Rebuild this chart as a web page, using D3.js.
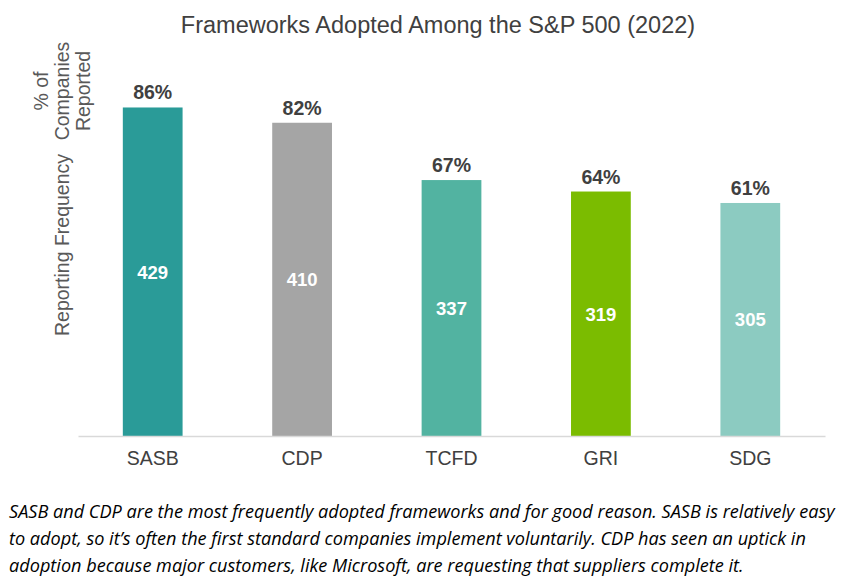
<!DOCTYPE html>
<html>
<head>
<meta charset="utf-8">
<script src="https://cdn.jsdelivr.net/npm/d3@7/dist/d3.min.js"></script>
<style>
  html, body { margin: 0; padding: 0; background: #fff; }
  svg { display: block; }
</style>
</head>
<body>
<svg id="chart" width="854" height="584"></svg>
<script>
const categories = ["SASB", "CDP", "TCFD", "GRI", "SDG"];
const counts = [429, 410, 337, 319, 305];
const percents = [86, 82, 67, 64, 61];
const colors = ["#2A9B98", "#A5A5A5", "#52B3A1", "#7BBC00", "#8CCBC1"];
const captionLines = [
  "SASB and CDP are the most frequently adopted frameworks and for good reason. SASB is relatively easy",
  "to adopt, so it\u2019s often the first standard companies implement voluntarily. CDP has seen an uptick in",
  "adoption because major customers, like Microsoft, are requesting that suppliers complete it."
];
const captionWidths = [826, 801, 740];

const svg = d3.select("#chart");
const margin = { left: 78, right: 29 };
const W = 854;
const FONT = "Arial, 'Liberation Sans', sans-serif";

const x = d3.scaleBand()
  .domain(categories)
  .range([margin.left, W - margin.right])
  .paddingInner(0.6)
  .paddingOuter(0.3);

const y = d3.scaleLinear()
  .domain([0, 100])
  .range([436, 54]);

const data = categories.map((c, i) => ({ cat: c, count: counts[i], pct: percents[i], color: colors[i] }));

// Title
svg.append("text")
  .attr("x", 438).attr("y", 33)
  .attr("text-anchor", "middle")
  .attr("font-family", FONT)
  .attr("font-size", 23.5)
  .attr("fill", "#404040")
  .text("Frameworks Adopted Among the S&P 500 (2022)");

// Bars
svg.selectAll("rect.bar").data(data).enter().append("rect")
  .attr("class", "bar")
  .attr("x", d => x(d.cat))
  .attr("width", x.bandwidth())
  .attr("y", d => y(d.pct))
  .attr("height", d => y(0) - y(d.pct))
  .attr("fill", d => d.color);

// Axis
const xAxis = svg.append("g")
  .attr("transform", `translate(0,${y(0)})`)
  .call(d3.axisBottom(x).tickSize(0).tickPadding(0));
xAxis.select(".domain").attr("stroke", "#D9D9D9").attr("stroke-width", 1.3);
xAxis.selectAll(".tick text")
  .attr("y", 29)
  .attr("dy", 0)
  .attr("font-family", FONT)
  .attr("font-size", 19.5)
  .attr("fill", "#404040");

// Percent labels
svg.selectAll("text.pct").data(data).enter().append("text")
  .attr("class", "pct")
  .attr("x", d => x(d.cat) + x.bandwidth() / 2)
  .attr("y", d => y(d.pct) - 8)
  .attr("text-anchor", "middle")
  .attr("font-family", FONT)
  .attr("font-weight", "bold")
  .attr("font-size", 19.5)
  .attr("fill", "#404040")
  .text(d => d.pct + "%");

// Count labels
svg.selectAll("text.cnt").data(data).enter().append("text")
  .attr("class", "cnt")
  .attr("x", d => x(d.cat) + x.bandwidth() / 2)
  .attr("y", d => (y(d.pct) + y(0)) / 2 + 7)
  .attr("text-anchor", "middle")
  .attr("font-family", FONT)
  .attr("font-weight", "bold")
  .attr("font-size", 18.5)
  .attr("fill", "#ffffff")
  .text(d => d.count);

// Y axis titles
const yt = svg.append("text")
  .attr("transform", "translate(0,91) rotate(-90)")
  .attr("text-anchor", "middle")
  .attr("font-family", FONT)
  .attr("font-size", 19.5)
  .attr("fill", "#595959");
yt.append("tspan").attr("x", 0).attr("y", 48).text("% of");
yt.append("tspan").attr("x", 0).attr("y", 69).text("Companies");
yt.append("tspan").attr("x", 0).attr("y", 90).text("Reported");

svg.append("text")
  .attr("transform", "translate(69,245) rotate(-90)")
  .attr("text-anchor", "middle")
  .attr("font-family", FONT)
  .attr("font-size", 19.5)
  .attr("fill", "#595959")
  .text("Reporting Frequency");

// Caption: fit each line to its measured width by adjusting font size
const caps = svg.selectAll("text.cap").data(captionLines).enter().append("text")
  .attr("class", "cap")
  .attr("x", 9)
  .attr("y", (d, i) => 518 + i * 27)
  .attr("font-family", "'Open Sans', 'Noto Sans', sans-serif")
  .attr("font-style", "italic")
  .attr("font-size", 18)
  .attr("fill", "#000")
  .text(d => d);

// Use a common font size derived from the first (longest) line
const first = caps.nodes()[0];
const natural = first.getComputedTextLength();
const fs = Math.max(14, Math.min(22, 18 * captionWidths[0] / natural));
caps.attr("font-size", fs);
</script>
</body>
</html>
